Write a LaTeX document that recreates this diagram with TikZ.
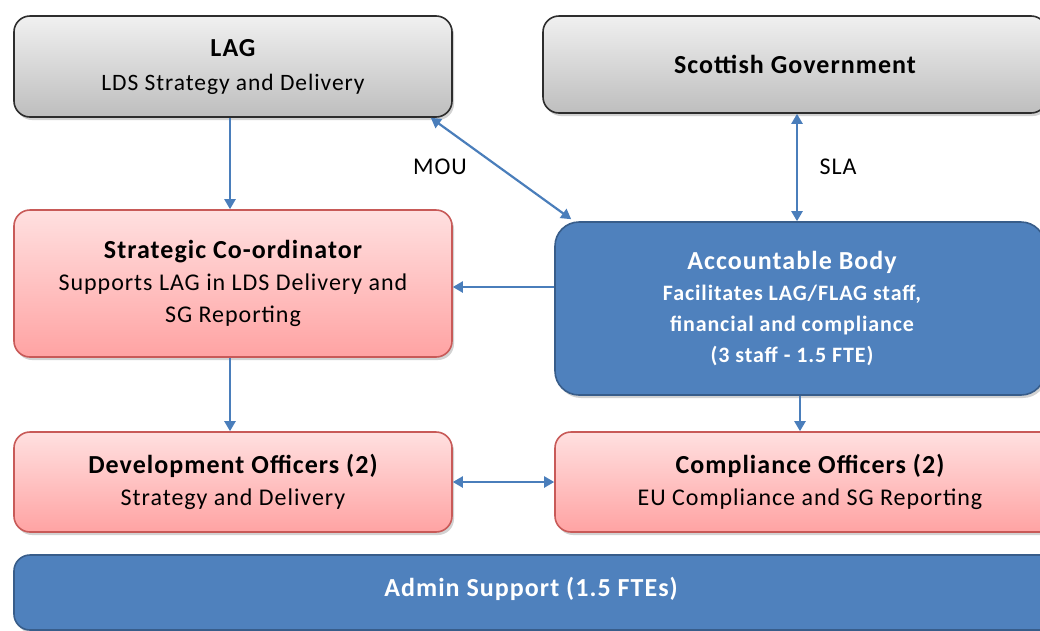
\documentclass[tikz,border=0pt]{standalone}
\usepackage{fontspec}
\setmainfont[LetterSpace=4]{Carlito}
\usetikzlibrary{arrows.meta,shadows}
\definecolor{abblue}{RGB}{79,129,189}
\definecolor{abborder}{RGB}{56,93,138}
\definecolor{pinktop}{RGB}{255,224,224}
\definecolor{pinkbot}{RGB}{255,163,163}
\definecolor{pinkborder}{RGB}{200,90,88}
\definecolor{graytop}{RGB}{240,240,240}
\definecolor{graybot}{RGB}{190,190,190}
\definecolor{grayborder}{RGB}{45,45,45}
\definecolor{arrcol}{RGB}{74,126,187}
\newcommand{\ttlfont}{\fontsize{26}{26}\selectfont\bfseries}
\begin{document}
\begin{tikzpicture}[x=1pt,y=-1pt,
  basebox/.style={rectangle, rounded corners=16pt, line width=1.6pt, align=center, inner sep=0pt,
    drop shadow={shadow xshift=2pt, shadow yshift=-3pt, opacity=0.35}},
  graybox/.style={basebox, draw=grayborder, top color=graytop, bottom color=graybot, text=black},
  pinkbox/.style={basebox, draw=pinkborder, top color=pinktop, bottom color=pinkbot, text=black},
  bluebox/.style={basebox, draw=abborder, fill=abblue, text=white, rounded corners=24pt},
  arr/.style={draw=arrcol, line width=2.2pt, -{Triangle[width=11pt,length=10pt]}},
  darr/.style={draw=arrcol, line width=2.2pt, {Triangle[width=11pt,length=10pt]}-{Triangle[width=11pt,length=10pt]}},
  lbl/.style={font=\fontsize{24}{26}\selectfont, text=black}
]
\useasboundingbox (0,0) rectangle (1040,630);
\fill[white] (0,0) rectangle (1040,630);
\clip (0,0) rectangle (1040,630);

\node[graybox, minimum width=438pt, minimum height=101pt, font=\fontsize{23.5}{34}\selectfont] (lag) at (233,66.5)
  {{\ttlfont LAG}\\LDS Strategy and Delivery};
\node[graybox, minimum width=504pt, minimum height=97pt, font=\ttlfont] (sg) at (795,64.5) {Scottish Government};

\node[pinkbox, minimum width=438pt, minimum height=147pt, font=\fontsize{24}{32}\selectfont] (strat) at (233,283.5)
  {{\ttlfont Strategic Co-ordinator}\\Supports LAG in LDS Delivery and\\SG Reporting};
\node[bluebox, minimum width=490pt, minimum height=173pt] (ab) at (800,308.5) {};
\node[font=\fontsize{22}{31}\selectfont\bfseries, text=white, align=center] (abtxt) at (792,308.5)
  {{\ttlfont Accountable Body}\\Facilitates LAG/FLAG staff,\\financial and compliance\\(3 staff - 1.5 FTE)};

\node[pinkbox, minimum width=438pt, minimum height=100pt, font=\fontsize{24}{32}\selectfont] (dev) at (233,482)
  {{\ttlfont Development Officers (2)}\\Strategy and Delivery};
\node[pinkbox, minimum width=510pt, minimum height=100pt, font=\fontsize{24}{32}\selectfont] (comp) at (810,482)
  {{\ttlfont Compliance Officers (2)}\\EU Compliance and SG Reporting};

\node[bluebox, rounded corners=16pt, minimum width=1050pt, minimum height=75pt] (admin) at (539,592.5) {};
\node[font=\ttlfont, text=white] (admintxt) at (531,589) {Admin Support (1.5 FTEs)};

\draw[arr] ([xshift=-3pt]lag.south) -- ([xshift=-3pt]strat.north);
\draw[darr] ([xshift=-22pt]lag.south east) -- ([xshift=17pt,yshift=2pt]ab.north west);
\draw[darr] ([xshift=2pt]sg.south) -- ([xshift=-3pt]ab.north);
\draw[arr] ([yshift=21.5pt]ab.west) -- ([yshift=21.5pt]ab.west -| strat.east);
\draw[arr] ([xshift=-3pt]strat.south) -- ([xshift=-3pt]dev.north);
\draw[arr] (ab.south) -- (ab.south |- comp.north);
\draw[darr] (dev.east) -- (comp.west);

\node[lbl] (mou) at (440,167) {MOU};
\node[lbl] (sla) at (838,167) {SLA};
\end{tikzpicture}
\end{document}
